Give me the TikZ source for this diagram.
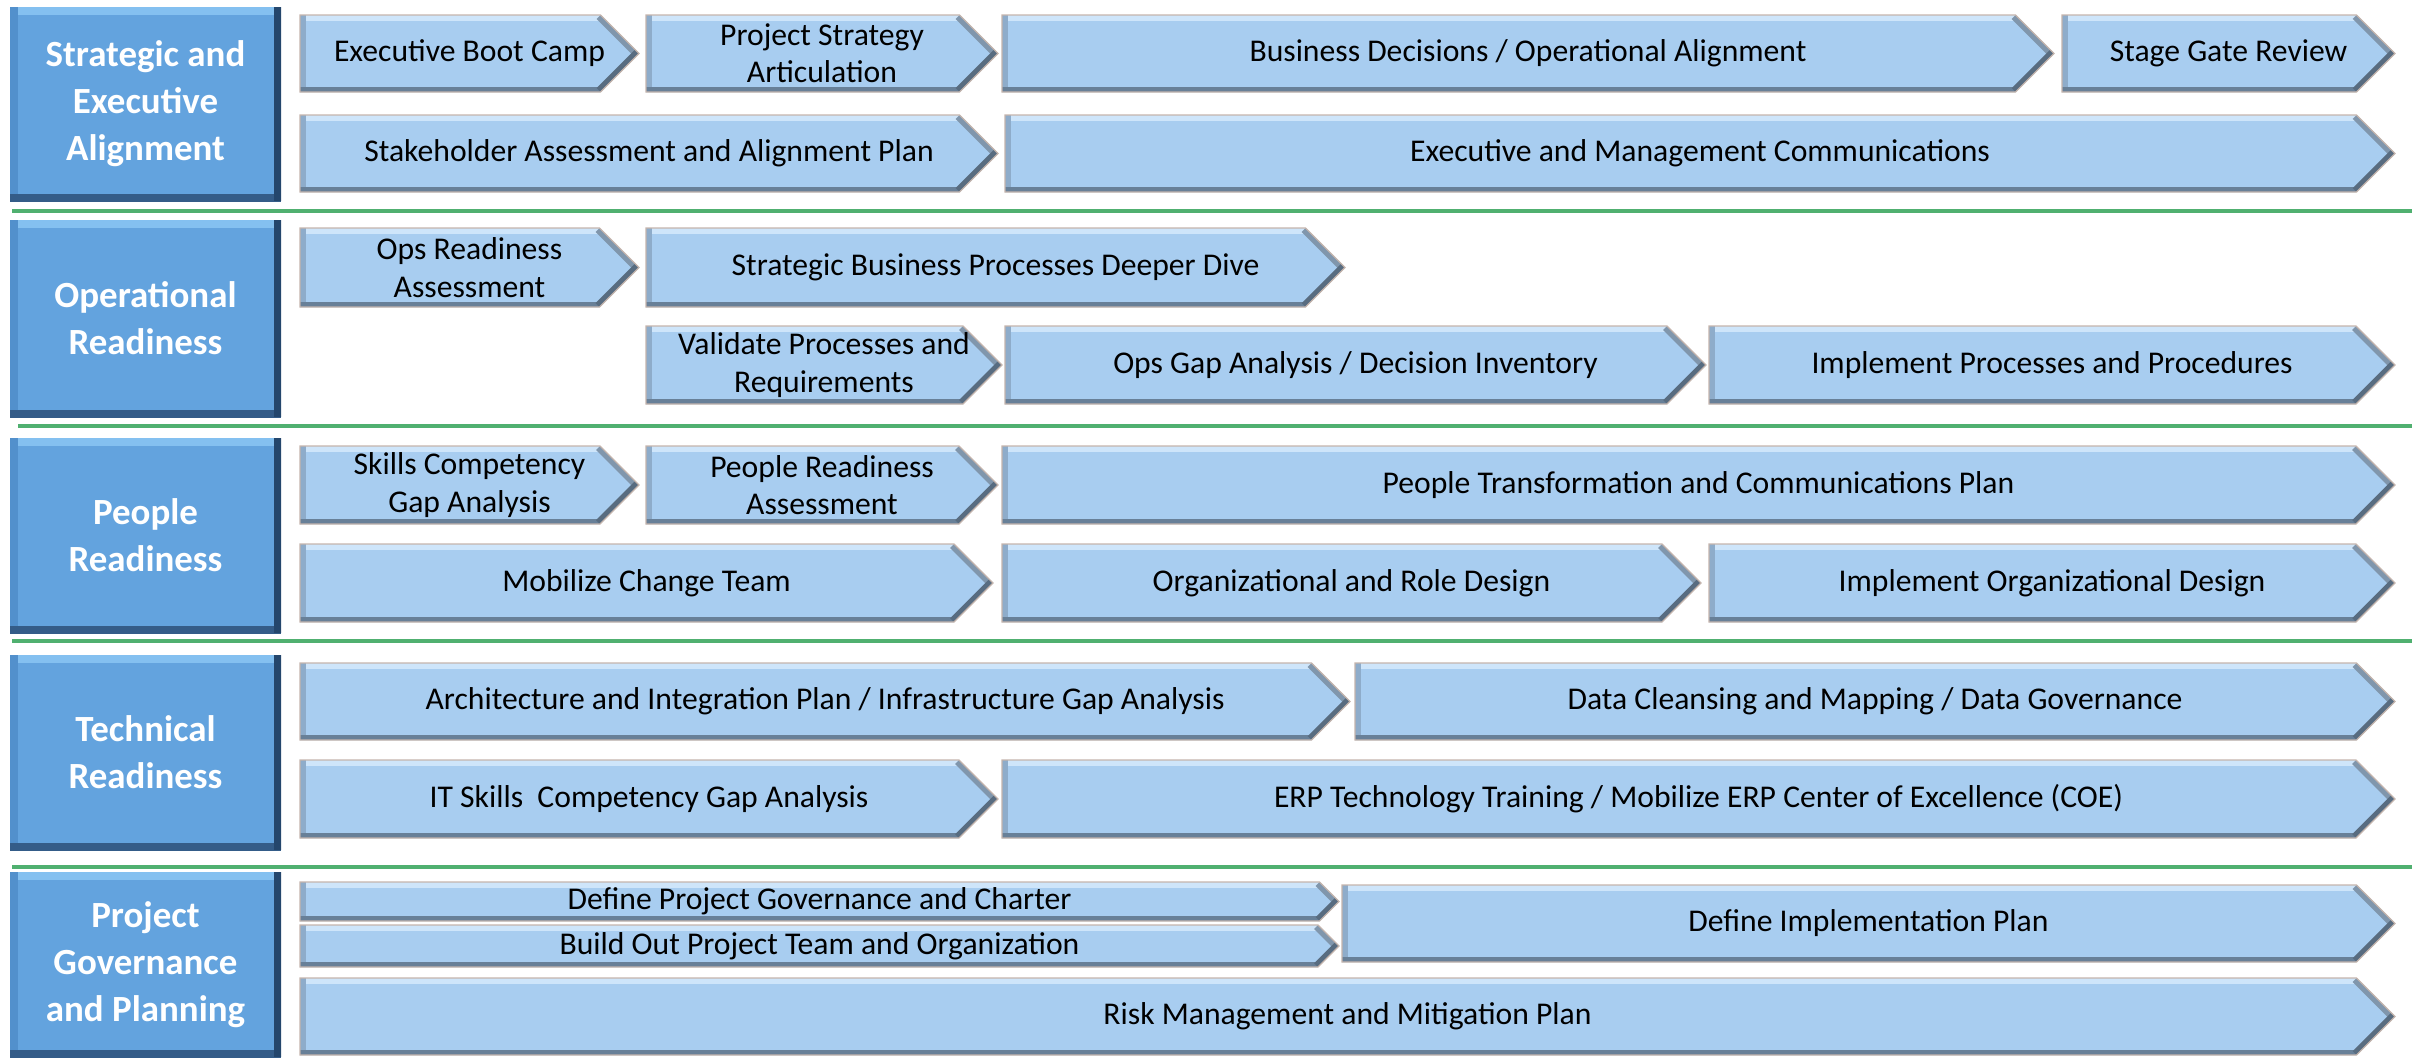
\documentclass[tikz,border=0pt]{standalone}
\usepackage{fontspec}
\setmainfont{Carlito}
\usepackage{xcolor}
\usepackage{tikz}
\usetikzlibrary{calc}
\definecolor{chevFill}{RGB}{168,205,240}
\definecolor{chevTop}{RGB}{206,229,250}
\definecolor{chevSide}{RGB}{142,172,202}
\definecolor{chevBottom}{RGB}{104,128,152}
\definecolor{chevTipUp}{RGB}{128,150,172}
\definecolor{chevTipDown}{RGB}{88,108,128}
\definecolor{chevEdge}{RGB}{196,180,172}
\definecolor{laneFill}{RGB}{99,163,222}
\definecolor{laneTop}{RGB}{132,192,240}
\definecolor{laneSide}{RGB}{82,144,204}
\definecolor{laneBottom}{RGB}{52,92,136}
\definecolor{laneRight}{RGB}{36,70,108}
\definecolor{divGreen}{RGB}{80,176,112}
\newcommand{\chev}[6]{%
  \coordinate (#1nw) at (#2,#4);
  \coordinate (#1ne) at ({#3-(#5-#4)/2},#4);
  \coordinate (#1tip) at (#3,{(#4+#5)/2});
  \coordinate (#1se) at ({#3-(#5-#4)/2},#5);
  \coordinate (#1sw) at (#2,#5);
  \fill[chevFill] (#1nw) -- (#1ne) -- (#1tip) -- (#1se) -- (#1sw) -- cycle;
  \begin{scope}
    \clip (#1nw) -- (#1ne) -- (#1tip) -- (#1se) -- (#1sw) -- cycle;
    \draw[bevel, chevTop] (#1nw) -- (#1ne);
    \draw[bevel, chevSide] (#1nw) -- (#1sw);
    \draw[bevel, chevBottom] (#1sw) -- (#1se);
    \draw[bevel, chevTipUp] (#1ne) -- (#1tip);
    \draw[bevel, chevTipDown] (#1tip) -- (#1se);
  \end{scope}
  \draw[chevline] (#1nw) -- (#1ne) -- (#1tip) -- (#1se) -- (#1sw) -- cycle;
  \node[chevtext] (#1) at ({(#2+#3)/2},{(#4+#5)/2}) {#6};}
\newcommand{\lane}[4]{%
  \fill[laneFill] (10,#2) rectangle (281,#3);
  \begin{scope}
    \clip (10,#2) rectangle (281,#3);
    \draw[lanebevel, laneTop] (10,#2) -- (281,#2);
    \draw[lanebevel, laneSide] (10,#2) -- (10,#3);
    \draw[lanebevel, laneBottom] (10,#3) -- (281,#3);
    \draw[lanebevel, laneRight] (281,#2) -- (281,#3);
  \end{scope}
  \node[lanetext] (#1) at (145.5,{(#2+#3)/2}) {#4};}

\begin{document}
\begin{tikzpicture}[x=0.01cm, y=-0.01cm,
        bevel/.style={line width=0.11cm},
        lanebevel/.style={line width=0.15cm},
        chevline/.style={draw=chevEdge, line width=0.35pt, line join=miter},
        chevtext/.style={font=\fontsize{9}{10.6}\selectfont, align=center, inner sep=0pt},
        lanetext/.style={font=\fontsize{10.5}{13.4}\selectfont\bfseries, text=white, align=center, inner sep=0pt},
        divider/.style={draw=divGreen, line width=1.1pt}]
      \useasboundingbox (0,0) rectangle (2425,1060);

      \lane{strat}{7}{201}{Strategic and\\Executive\\Alignment}
      \lane{ops}{220}{417}{Operational\\Readiness}
      \lane{people}{438}{633}{People\\Readiness}
      \lane{tech}{655}{850}{Technical\\Readiness}
      \lane{gov}{872}{1057}{Project\\Governance\\and Planning}

      \draw[divider] (12,211) -- (2412,211);
      \draw[divider] (18,426) -- (2412,426);
      \draw[divider] (12,641) -- (2412,641);
      \draw[divider] (12,867) -- (2412,867);

      \chev{bootcamp}{300}{639}{15}{92}{Executive Boot Camp}
      \chev{strategy}{646}{998}{15}{92}{Project Strategy\\Articulation}
      \chev{decisions}{1002}{2054}{15}{92}{Business Decisions / Operational Alignment}
      \chev{stagegate}{2062}{2395}{15}{92}{Stage Gate Review}
      \chev{stakeholder}{300}{998}{115}{192}{Stakeholder Assessment and Alignment Plan}
      \chev{execcomms}{1005}{2395}{115}{192}{Executive and Management Communications}

      \chev{opsassess}{300}{639}{228}{307}{Ops Readiness\\Assessment}
      \chev{deepdive}{646}{1345}{228}{307}{Strategic Business Processes Deeper Dive}
      \chev{validate}{646}{1002}{326}{404}{Validate Processes and\\Requirements}
      \chev{opsgap}{1005}{1706}{326}{404}{Ops Gap Analysis / Decision Inventory}
      \chev{implproc}{1709}{2395}{326}{404}{Implement Processes and Procedures}

      \chev{skillsgap}{300}{639}{446}{524}{Skills Competency\\Gap Analysis}
      \chev{peopleassess}{646}{998}{446}{524}{People Readiness\\Assessment}
      \chev{transform}{1002}{2395}{446}{524}{People Transformation and Communications Plan}
      \chev{changeteam}{300}{993}{544}{622}{Mobilize Change Team}
      \chev{roledesign}{1002}{1701}{544}{622}{Organizational and Role Design}
      \chev{implorg}{1709}{2395}{544}{622}{Implement Organizational Design}

      \chev{archplan}{300}{1350}{663}{740}{Architecture and Integration Plan / Infrastructure Gap Analysis}
      \chev{datacleanse}{1355}{2395}{663}{740}{Data Cleansing and Mapping / Data Governance}
      \chev{itskills}{300}{998}{760}{838}{IT Skills\ \ Competency Gap Analysis}
      \chev{erptrain}{1002}{2395}{760}{838}{ERP Technology Training / Mobilize ERP Center of Excellence (COE)}

      \chev{charter}{300}{1339}{882}{921}{Define Project Governance and Charter}
      \chev{projteam}{300}{1339}{925}{967}{Build Out Project Team and Organization}
      \chev{implplan}{1342}{2395}{885}{962}{Define Implementation Plan}
      \chev{riskplan}{300}{2395}{978}{1055}{Risk Management and Mitigation Plan}
    \end{tikzpicture}
\end{document}
